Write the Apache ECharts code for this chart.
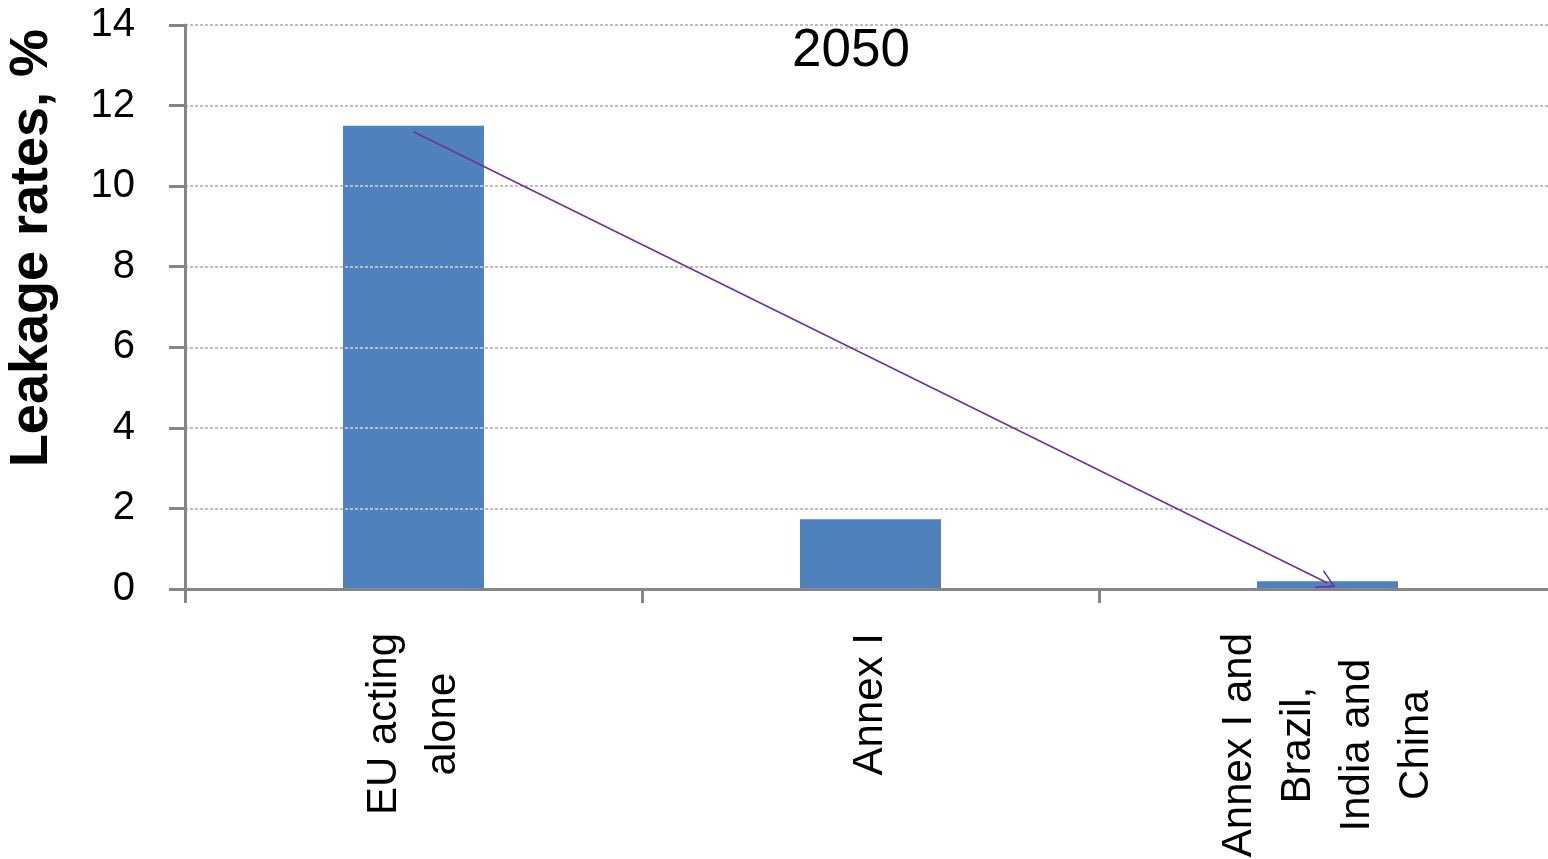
<!DOCTYPE html>
<html>
<head>
<meta charset="utf-8">
<style>
  html, body { margin: 0; padding: 0; background: #ffffff; }
  #chart { width: 1548px; height: 859px; }
</style>
<script src="https://cdn.jsdelivr.net/npm/echarts@6/dist/echarts.min.js"></script>
</head>
<body>
<div id="chart"></div>
<script>
// Leakage rates by coalition size, 2050
const categories = ['EU acting\nalone', 'Annex I', 'Annex I and\nBrazil,\nIndia and\nChina'];
const leakageRates = [11.5, 1.73, 0.19];
const yTicks = { min: 0, max: 14, interval: 2 };
// Trend arrow from the first to the last coalition (percent values)
const arrowFrom = [categories[0], 11.35];
const arrowTo = [categories[2], 0.15];

const FONT = 'Liberation Sans, Arial, sans-serif';
const AXIS_GREY = '#868686';

const chart = echarts.init(document.getElementById('chart'), null, { renderer: 'canvas' });

chart.setOption({
  backgroundColor: '#ffffff',
  animation: false,
  title: {
    text: '2050',
    left: 787,
    top: 20,
    textStyle: { fontFamily: FONT, fontSize: 53, fontWeight: 'normal', color: '#000000' }
  },
  grid: { left: 185, top: 25, width: 1371, height: 564, containLabel: false, outerBoundsMode: 'none' },
  xAxis: {
    type: 'category',
    data: categories,
    z: 3,
    axisLine: { lineStyle: { color: AXIS_GREY, width: 3 } },
    axisTick: { show: true, length: 14, lineStyle: { color: AXIS_GREY, width: 3 } },
    axisLabel: {
      rotate: 90,
      margin: 44,
      interval: 0,
      color: '#000000',
      fontFamily: FONT,
      fontSize: 42,
      lineHeight: 59,
      formatter: function (v) {
        return v.split('\n').map(function (s) { return '{c|' + s + '}'; }).join('\n');
      },
      rich: {
        c: { align: 'center', fontFamily: FONT, fontSize: 42, lineHeight: 59, color: '#000000' }
      }
    }
  },
  yAxis: {
    type: 'value',
    min: yTicks.min,
    max: yTicks.max,
    interval: yTicks.interval,
    z: 3,
    name: 'Leakage rates, %',
    nameLocation: 'middle',
    nameRotate: 90,
    nameGap: 126,
    nameTextStyle: {
      fontFamily: FONT, fontSize: 54, fontWeight: 'bold', color: '#000000',
      padding: [0, 0, 0, 118]
    },
    axisLine: { show: true, lineStyle: { color: AXIS_GREY, width: 3 } },
    axisTick: { show: true, length: 16, lineStyle: { color: AXIS_GREY, width: 3 } },
    axisLabel: { margin: 50, color: '#000000', fontFamily: FONT, fontSize: 40 },
    splitLine: { show: true, lineStyle: { color: '#BFBFBF', width: 2, type: [3, 2] } }
  },
  series: [{
    type: 'bar',
    data: leakageRates,
    barWidth: 141,
    itemStyle: { color: '#4F81BD' },
    markLine: {
      silent: true,
      symbol: ['none', 'path://M0,18 L10,0 L20,18 L18.2,18 L10,3.2 L1.8,18 Z'],
      symbolSize: [20, 18],
      label: { show: false },
      lineStyle: { color: '#7030A0', width: 1.6, type: 'solid' },
      data: [[{ coord: arrowFrom }, { coord: arrowTo }]]
    }
  }]
});
</script>
</body>
</html>
